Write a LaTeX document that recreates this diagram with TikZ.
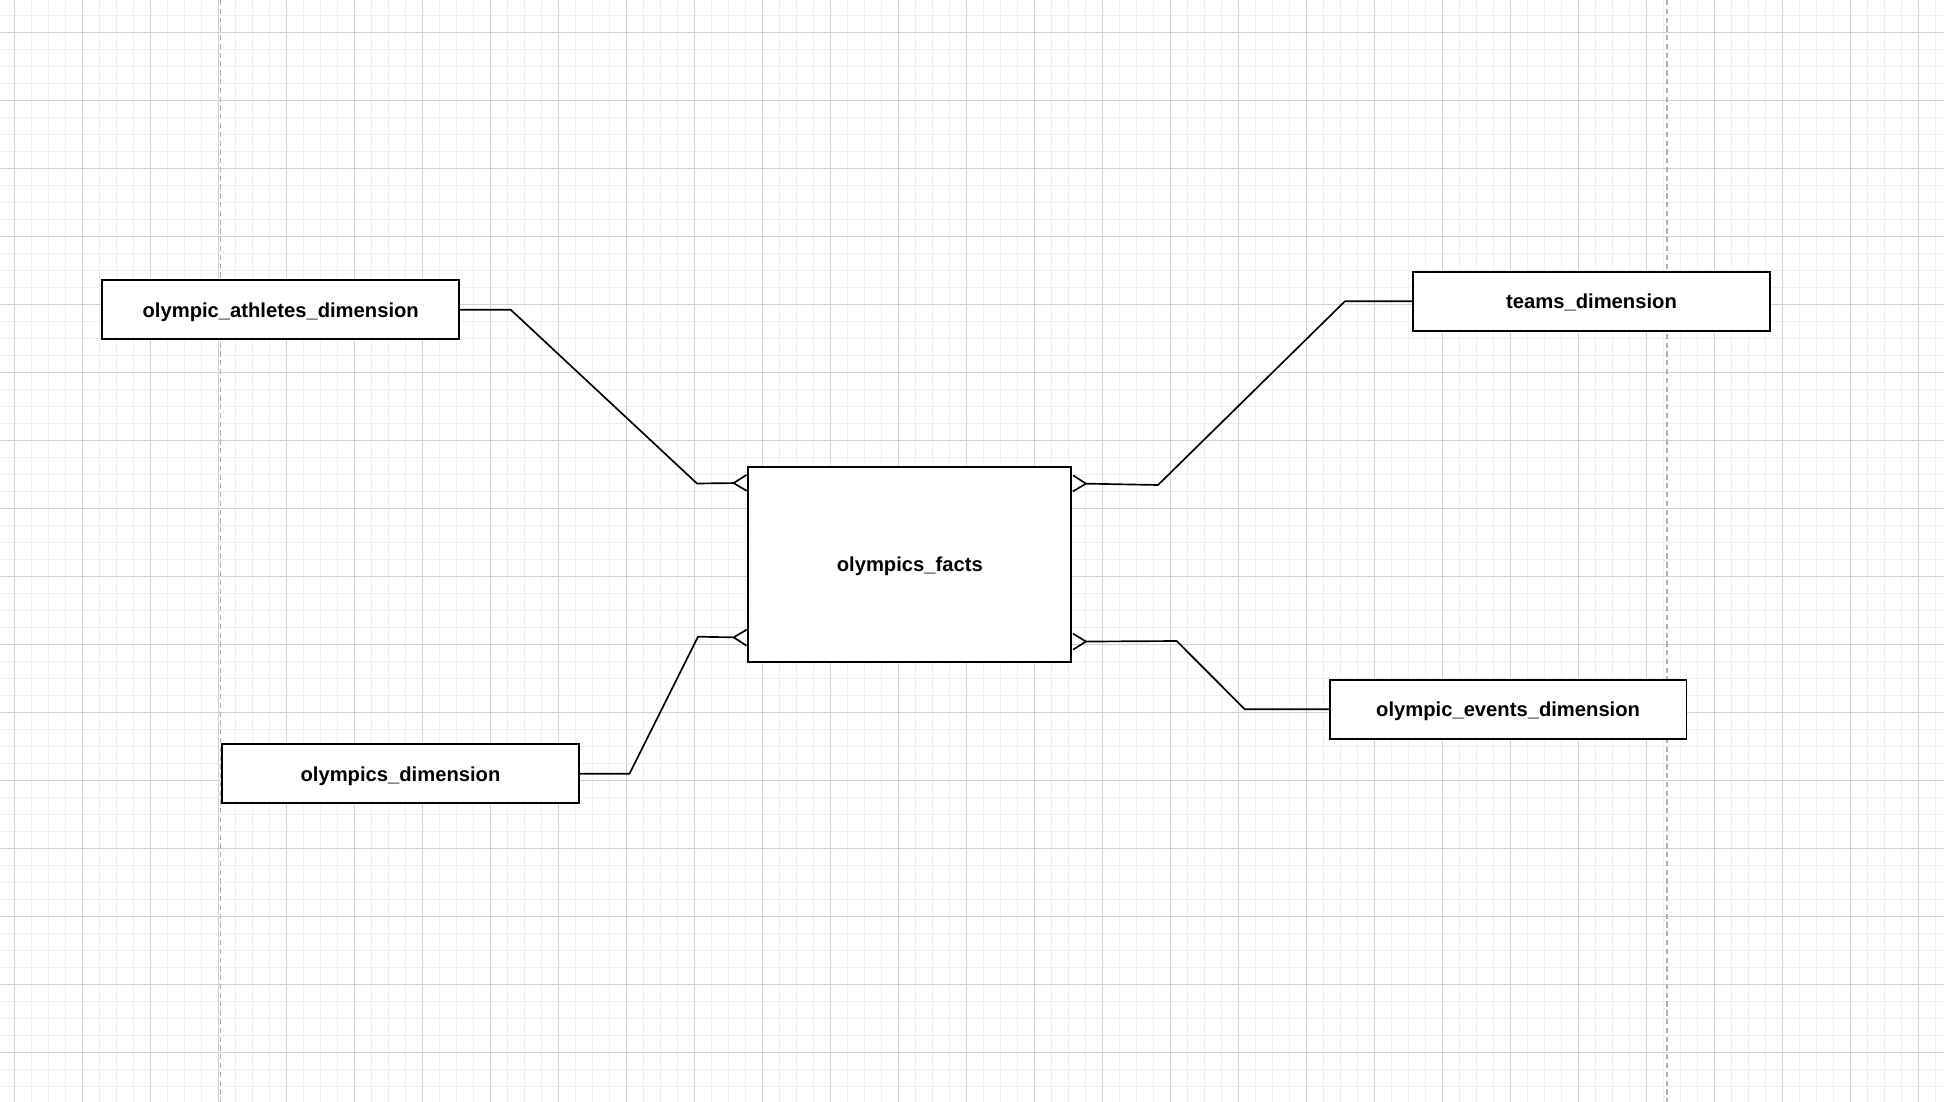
\documentclass[tikz,border=0pt]{standalone}
\usepackage{fontspec}
\setmainfont{Liberation Sans}
\usetikzlibrary{arrows.meta}
\begin{document}
\begin{tikzpicture}[x=0.02cm, y=-0.02cm,
    minorline/.style={draw=black!6, line width=0.5pt},
    majorline/.style={draw=black!18, line width=0.5pt},
    guide/.style={draw=black!30, line width=0.9pt, dash pattern=on 3pt off 2pt},
    table/.style={draw, line width=1pt, fill=white, minimum width=7.14cm, minimum height=1.18cm, text depth=0pt, font=\bfseries\fontsize{11.5}{14}\selectfont},
    link/.style={line width=0.95pt, -{Straight Barb[reversed, length=0.26cm, width=0.32cm]}}]
\useasboundingbox (0,0) rectangle (1944,1102);
\fill[white] (0,0) rectangle (1944,1102);
\foreach \i in {0,...,114}
    \draw[minorline] (14.3+17*\i,0) -- (14.3+17*\i,1102);
\foreach \i in {-1,...,64}
    \draw[minorline] (0,32.3+17*\i) -- (1944,32.3+17*\i);
\foreach \i in {0,...,28}
    \draw[majorline] (14.3+68*\i,0) -- (14.3+68*\i,1102);
\foreach \i in {0,...,15}
    \draw[majorline] (0,32.3+68*\i) -- (1944,32.3+68*\i);
\foreach \x in {220.7,1666.7}
    \draw[guide] (\x,0) -- (\x,1102);
\node[table] (athletes) at (280.7,309.7) {olympic\_athletes\_dimension};
\node[table] (teams) at (1591.5,301.2) {teams\_dimension};
\node[table] (events) at (1508.1,709.2) {olympic\_events\_dimension};
\node[table] (games) at (400.5,773.7) {olympics\_dimension};
\node[table, minimum width=6.46cm, minimum height=3.91cm] (facts) at (909.8,564.5) {olympics\_facts};
\draw[link] (athletes.east) -- (510.7,309.7) -- (697,483.5) -- ([yshift=-0.34cm]facts.north west);
\draw[link] (teams.west) -- (1345,301.2) -- (1158,485) -- ([yshift=-0.35cm]facts.north east);
\draw[link] (events.west) -- (1244.7,709.2) -- (1176.7,641) -- ([yshift=0.43cm]facts.south east);
\draw[link] (games.east) -- (629.5,773.7) -- (698,636.7) -- ([yshift=0.51cm]facts.south west);
\end{tikzpicture}
\end{document}
